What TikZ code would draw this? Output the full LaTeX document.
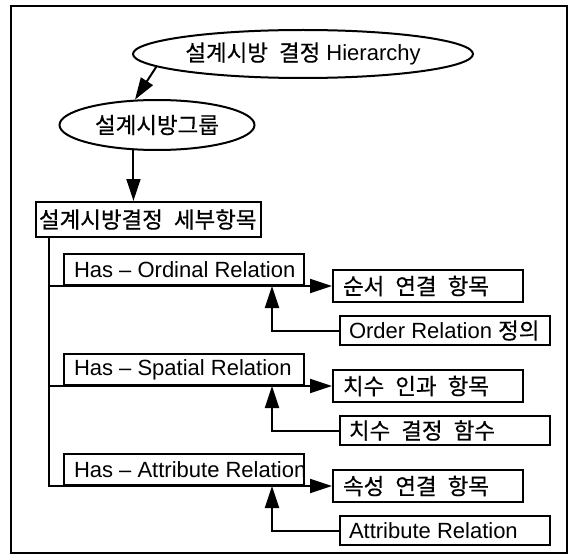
\documentclass[tikz,border=0pt]{standalone}
\usepackage{fontspec}
\setmainfont{Liberation Sans}
\newfontfamily\kr[Scale=1.02,WordSpace=2.2,FakeBold=0.5]{Noto Sans CJK KR}
\usetikzlibrary{shapes.geometric,arrows.meta,calc}
\newcommand{\LBX}[2]{\makebox[#1][l]{#2}}
\begin{document}
\begin{tikzpicture}[x=1pt,y=-1pt,
  every node/.style={font=\fontsize{22}{26}\selectfont},
  ell/.style={draw, ellipse, line width=2pt, inner sep=0pt},
  box/.style={draw, rectangle, line width=2pt, anchor=north west, inner ysep=0pt},
  hasbox/.style={box, inner xsep=10pt, minimum height=31pt},
  resbox/.style={box, inner xsep=10pt, minimum height=32pt},
  srcbox/.style={box, inner xsep=9pt, minimum height=29pt},
  arr/.style={line width=2pt, -{Triangle[length=22pt,width=14pt]}},
  conn/.style={line width=2pt}]
\useasboundingbox (0,0) rectangle (573,559);
\draw[line width=2pt] (11,6) rectangle (567,553);
% ellipses
\node[ell, minimum width=340pt, minimum height=48pt] (top) at (303,54) {{\kr 설계시방 결정} Hierarchy};
\node[ell, minimum width=195pt, minimum height=50pt] (grp) at (157,125) {{\kr 설계시방그룹}};
\node[box, inner xsep=3pt, minimum height=35pt] (main) at (35,201) {\LBX{219pt}{\kr 설계시방결정 세부항목}};
% groups
\node[hasbox] (h1) at (63,253) {\LBX{220pt}{Has – Ordinal Relation}};
\node[hasbox] (h2) at (63,353) {\LBX{220pt}{Has – Spatial Relation}};
\node[hasbox] (h3) at (63,453) {\LBX{220pt}{Has – Attribute Relation}};
\node[resbox] (r1) at (332,269) {\LBX{170pt}{\kr 순서 연결 항목}};
\node[resbox] (r2) at (332,369) {\LBX{170pt}{\kr 치수 인과 항목}};
\node[resbox] (r3) at (332,469) {\LBX{170pt}{\kr 속성 연결 항목}};
\node[srcbox] (s1) at (339,315) {\LBX{192pt}{Order Relation {\kr 정의}}};
\node[srcbox] (s2) at (339,415) {\LBX{192pt}{\kr 치수 결정 함수}};
\node[srcbox] (s3) at (339,515) {\LBX{192pt}{Attribute Relation}};
% connectors
\draw[arr] (top.185) -- (grp.131);
\draw[arr] (grp.227) -- (grp.227 |- main.north);
\coordinate (t0) at ($(main.south west)+(14,0)$);
\coordinate (ux) at (272,0);
\draw[conn] (t0) |- (h3.south west);
\foreach \i in {1,2,3}{
  \draw[arr] (t0 |- h\i.south) -- (r\i.west |- h\i.south);
  \draw[arr] (s\i.west) -| (h\i.south -| ux);
}
\end{tikzpicture}
\end{document}
